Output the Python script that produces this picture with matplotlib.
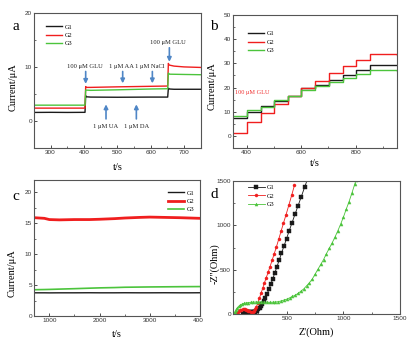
import matplotlib
matplotlib.use("Agg")
import matplotlib.pyplot as plt
from matplotlib.ticker import MultipleLocator
from matplotlib.transforms import Bbox

# ---------------- data ----------------
series_names = ["G1", "G2", "G3"]
colors = ["#1a1a1a", "#f01e1e", "#4cc43c"]

# panel a : selectivity (amperometric steps)
a_G1_t = [250, 300, 350, 403, 405, 408, 420, 500, 600, 651, 653, 656, 670, 750]
a_G1_i = [1.60, 1.62, 1.60, 1.62, 4.7, 4.5, 4.45, 4.42, 4.45, 4.45, 6.1, 5.95, 5.9, 5.9]
a_G2_t = [250, 403, 405, 407, 420, 500, 600, 651, 653, 655, 670, 700, 750]
a_G2_i = [2.4, 2.4, 6.4, 6.25, 6.25, 6.35, 6.45, 6.5, 10.7, 10.4, 10.2, 10.05, 9.95]
a_G3_t = [250, 403, 405, 420, 500, 600, 651, 653, 656, 700, 750]
a_G3_i = [2.95, 2.95, 5.75, 5.7, 5.8, 5.95, 6.0, 8.9, 8.7, 8.65, 8.6]
a_labels = ["100 μM GLU", "1 μM AA", "1 μM NaCl", "100 μM GLU", "1 μM UA", "1 μM DA"]

# panel b : successive additions of 100 uM GLU
b_t = [350, 403, 453, 502, 553, 601, 652, 701, 752, 802, 852, 950]
b_G1 = [7.3, 9.8, 12.3, 14.4, 16.4, 19.9, 21.2, 23.2, 25.3, 27.4, 29.4, 29.2]
b_G2 = [1.2, 5.6, 9.3, 13.0, 16.5, 19.8, 22.9, 25.9, 28.8, 31.3, 34.0, 33.5]
b_G3 = [8.2, 10.6, 12.0, 15.0, 16.5, 18.9, 20.6, 22.3, 23.9, 25.7, 27.2, 26.8]

# panel c : long term stability
c_t = [700, 900, 1000, 1200, 1500, 1800, 2000, 2300, 2500, 2800, 3000, 3300, 3600, 3800, 4000]
c_G1 = [3.75, 3.75, 3.74, 3.75, 3.75, 3.76, 3.75, 3.75, 3.76, 3.75, 3.75, 3.76, 3.75, 3.75, 3.76]
c_G2 = [15.9, 15.8, 15.6, 15.55, 15.6, 15.6, 15.65, 15.75, 15.85, 15.95, 16.0, 15.95, 15.9, 15.85, 15.8]
c_G3 = [4.25, 4.28, 4.3, 4.35, 4.42, 4.5, 4.55, 4.6, 4.65, 4.68, 4.7, 4.72, 4.74, 4.75, 4.76]

# panel d : Nyquist plots
d_G1_x = [110, 120, 130, 140, 150, 160, 170, 180, 190, 200, 210, 220, 230, 240, 250, 260,
          272, 285, 298, 312, 327, 342, 358, 375, 393, 412, 432, 453, 475, 498, 522, 547,
          573, 600, 628, 657, 685]
d_G1_y = [0, 8, 14, 19, 22, 24, 25, 25, 24, 24, 25, 28, 33, 42, 55, 70,
          90, 115, 145, 185, 230, 280, 335, 395, 460, 530, 605, 685, 765, 850, 940, 1030,
          1125, 1220, 1320, 1425, 1525]
d_G2_x = [50, 60, 70, 80, 90, 100, 110, 120, 130, 140, 150, 160, 170, 180, 190, 200,
          210, 220, 232, 245, 258, 272, 287, 302, 318, 335, 352, 370, 389, 408, 428, 449,
          471, 494, 518, 543, 568]
d_G2_y = [0, 15, 28, 38, 46, 52, 55, 56, 55, 52, 47, 40, 32, 25, 22, 25,
          35, 55, 85, 130, 180, 235, 290, 350, 410, 470, 535, 605, 680, 755, 840, 930,
          1025, 1120, 1225, 1335, 1450]
d_G3_x = [30, 40, 50, 62, 75, 90, 105, 120, 140, 160, 180, 200, 225, 250, 275, 300, 325,
          350, 375, 400, 425, 450, 475, 500, 525, 550, 575, 600, 625, 650, 675, 700, 725,
          750, 775, 800, 825, 850, 875, 900, 925, 950, 975, 1000, 1025, 1050, 1075, 1100, 1112]
d_G3_y = [0, 25, 50, 72, 90, 105, 115, 122, 128, 132, 135, 137, 138, 139, 139, 138, 136,
          135, 136, 138, 142, 150, 160, 170, 185, 200, 215, 235, 260, 285, 320, 355, 395,
          450, 505, 560, 615, 680, 740, 800, 865, 935, 1010, 1090, 1180, 1265, 1360, 1460, 1510]

# ---------------- style ----------------
SERIF = ["Liberation Serif", "DejaVu Serif"]
SANS = ["Liberation Sans", "DejaVu Sans"]
TICK_FS = 4.6
LAB_FS = 7.5
LEG_FS = 4.6
BLUE = "#4f86c6"

W, H = 412, 345
fig = plt.figure(figsize=(W / 100, H / 100), dpi=100)


def ax_px(l, t, r, b):
    return fig.add_axes([l / W, 1 - b / H, (r - l) / W, (b - t) / H])


def style(ax):
    for s in ax.spines.values():
        s.set_color("#555555")
        s.set_linewidth(0.8)
    ax.tick_params(which="both", direction="in", top=False, right=False,
                   labelsize=TICK_FS, colors="#333333", pad=1.5)
    ax.tick_params(which="major", length=2.5, width=0.6)
    ax.tick_params(which="minor", length=1.5, width=0.5)
    for lab in ax.get_xticklabels() + ax.get_yticklabels():
        lab.set_family(SANS)


def legend(ax, handles, x, y):
    leg = ax.legend(handles, series_names, loc="upper left", bbox_to_anchor=(x, y),
                    frameon=False, prop={"family": SERIF, "size": LEG_FS},
                    handlelength=2.6, handletextpad=0.4, labelspacing=0.45,
                    borderaxespad=0, borderpad=0)
    return leg


# ---------- panel a ----------
axa = ax_px(34, 13.3, 200.7, 148)
ha = []
for t, i, c in zip([a_G1_t, a_G2_t, a_G3_t], [a_G1_i, a_G2_i, a_G3_i], colors):
    ha.append(axa.plot(t, i, color=c, lw=1.0)[0])
axa.set_xlim(250, 750)
axa.set_ylim(-5, 20)
axa.xaxis.set_major_locator(MultipleLocator(100))
axa.xaxis.set_minor_locator(MultipleLocator(50))
axa.yaxis.set_major_locator(MultipleLocator(10))
axa.yaxis.set_minor_locator(MultipleLocator(5))
style(axa)
legend(axa, ha, 0.07, 0.92)
axa.set_xlabel("t/s", family=SERIF, fontsize=LAB_FS, labelpad=6)

# annotations with arrows (label pos, arrow tail, arrow tip)
ann = [
    (a_labels[0], (403, 10.2), (405, 9.2), (405, 6.9)),
    (a_labels[1], (513, 10.2), (516, 9.2), (516, 7.0)),
    (a_labels[2], (598, 10.2), (605, 9.2), (605, 7.0)),
    (a_labels[3], (653, 14.6), (656, 13.6), (656, 11.0)),
    (a_labels[4], (466, -1.0), (466, 0.4), (466, 3.1)),
    (a_labels[5], (558, -1.0), (557, 0.4), (557, 3.1)),
]
for txt, tp, tail, tip in ann:
    axa.text(tp[0], tp[1], txt, ha="center", va="center", family=SERIF,
             fontsize=4.7, color="#222222")
    axa.annotate("", xy=tip, xytext=tail,
                 arrowprops=dict(arrowstyle="-|>", color=BLUE, lw=1.2,
                                 mutation_scale=6, shrinkA=0, shrinkB=0))

# ---------- panel b ----------
axb = ax_px(233, 15, 396.7, 148)
hb = []
for v, c in zip([b_G1, b_G2, b_G3], colors):
    hb.append(axb.plot(b_t, v, color=c, lw=1.0, drawstyle="steps-post")[0])
axb.set_xlim(350, 950)
axb.set_ylim(-5, 50)
axb.xaxis.set_major_locator(MultipleLocator(200))
axb.xaxis.set_minor_locator(MultipleLocator(100))
axb.yaxis.set_major_locator(MultipleLocator(10))
axb.yaxis.set_minor_locator(MultipleLocator(5))
style(axb)
legend(axb, hb, 0.09, 0.88)
axb.text(358, 17.9, "100 μM GLU", color="#f03030", family=SERIF, fontsize=4.5,
         ha="left", va="center")
axb.set_xlabel("t/s", family=SERIF, fontsize=LAB_FS, labelpad=3)

# ---------- panel c ----------
axc = ax_px(34.3, 180, 200, 316)
hc = []
hc.append(axc.plot(c_t, c_G1, color=colors[0], lw=1.0)[0])
hc.append(axc.plot(c_t, c_G2, color=colors[1], lw=2.0)[0])
hc.append(axc.plot(c_t, c_G3, color=colors[2], lw=1.2)[0])
axc.set_xlim(700, 4000)
axc.set_ylim(0, 22)
axc.xaxis.set_major_locator(MultipleLocator(1000))
axc.xaxis.set_minor_locator(MultipleLocator(500))
axc.yaxis.set_major_locator(MultipleLocator(5))
axc.yaxis.set_minor_locator(MultipleLocator(2.5))
style(axc)
legend(axc, hc, 0.805, 0.925)
axc.set_xlabel("t/s", family=SERIF, fontsize=LAB_FS, labelpad=5)

# ---------- panel d ----------
axd = ax_px(233, 180.7, 400, 314.3)
hd = []
for x, y, c, m in zip([d_G1_x, d_G2_x, d_G3_x], [d_G1_y, d_G2_y, d_G3_y], colors, ["s", "o", "^"]):
    hd.append(axd.plot(x, y, color=c, lw=0.6, marker=m, markersize=2.2,
                       markeredgewidth=0.3)[0])
axd.set_xlim(25, 1500)
axd.set_ylim(0, 1500)
axd.xaxis.set_major_locator(MultipleLocator(500))
axd.xaxis.set_minor_locator(MultipleLocator(250))
axd.yaxis.set_major_locator(MultipleLocator(500))
axd.yaxis.set_minor_locator(MultipleLocator(250))
style(axd)
legend(axd, hd, 0.09, 0.97)
axd.set_xlabel("Z'(Ohm)", family=SERIF, fontsize=LAB_FS, labelpad=4)

# ---------- y labels and panel letters (figure pixel positions) ----------
for (x, y, s) in [(13.3, 87, "Current/μA"), (212.5, 86, "Current/μA"),
                  (12.5, 273, "Current/μA"), (215, 264, "-Z''(Ohm)")]:
    fig.text(x / W, 1 - y / H, s, rotation=90, ha="center", va="center",
             family=SERIF, fontsize=LAB_FS)
for (x, y, s) in [(16, 26, "a"), (214, 26, "b"), (16, 197, "c"), (214, 195, "d")]:
    fig.text(x / W, 1 - y / H, s, ha="center", va="center", family=SERIF, fontsize=11)

# the last x tick label of panel c is cut in the reference image
fig.canvas.draw()
clip = Bbox.from_extents(0, 0, 203, H)
for lab in axc.get_xticklabels():
    lab.set_clip_box(clip)
    lab.set_clip_on(True)

fig.savefig("out.png", dpi=100)
